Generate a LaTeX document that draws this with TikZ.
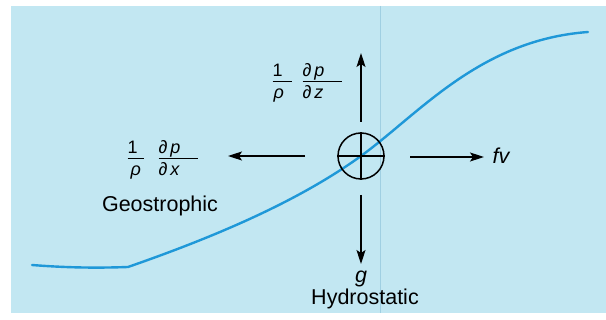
\documentclass[tikz,border=0pt]{standalone}
\usepackage{fontspec}
\setmainfont{Liberation Sans}
\usetikzlibrary{arrows.meta}
\definecolor{panel}{HTML}{C2E7F2}
\definecolor{curve}{HTML}{1F98D8}
\definecolor{vline}{HTML}{9FCFE2}
\setlength{\arrayrulewidth}{0.9pt}
\newcommand{\myfrac}[3]{\begin{tabular}{@{}l@{}}\makebox[#1][l]{#2}\\[-1.5pt]\hline\rule{0pt}{16pt}#3\end{tabular}}
\tikzset{
  force/.style={line width=1.3pt,-{Stealth[length=14pt,width=9pt,inset=3pt]}},
  lbl/.style={inner sep=0pt,font=\fontsize{21.5}{24}\selectfont},
  frac/.style={inner sep=0pt,font=\fontsize{18}{21.6}\selectfont},
}
\begin{document}
\begin{tikzpicture}[x=1pt,y=-1pt]
\useasboundingbox (0,0) rectangle (606,320);
\fill[white] (0,0) rectangle (606,320);
\fill[panel] (11,6) rectangle (606,313);
\draw[vline,line width=0.8pt] (380,6) -- (380,313);
% curve
\draw[curve,line width=2.4pt,line cap=round] (32,265) .. controls (70,268) and (100,268) .. (128,267)
  .. controls (220,235) and (300,200) .. (361,156)
  .. controls (420,113) and (480,40) .. (588,32);
% centre symbol
\node[circle,draw,line width=1.5pt,minimum size=46pt,inner sep=0pt] (c) at (361,156) {};
\draw[line width=1.3pt] (c.west) -- (c.east);
\draw[line width=1.3pt] (c.north) -- (c.south);
% arrow anchors
\coordinate (us) at (361,122);
\coordinate (ut) at (361,53);
\coordinate (ls) at (305,156);
\coordinate (lt) at (228,156);
\coordinate (rs) at (410,157);
\coordinate (rt) at (484,157);
\coordinate (ds) at (361,195);
\coordinate (dt) at (361,264);
\draw[force] (us) -- (ut);
\draw[force] (ls) -- (lt);
\draw[force] (rs) -- (rt);
\draw[force] (ds) -- (dt);
% labels
\node[lbl] (fv) at (501,156) {\itshape fv};
\node[lbl] (g) at (361,279) {\itshape g};
\node[lbl] (hyd) at (365,299) {Hydrostatic};
\node[lbl] (geo) at (160,206) {Geostrophic};
\node[frac] (xa) at (136,160) {\myfrac{17pt}{1}{\hspace{3pt}\itshape ρ}};
\node[frac] (xb) at (178,160) {\myfrac{39pt}{∂\,\itshape p}{∂\,\itshape x}};
\node[frac] (za) at (282,83) {\myfrac{19pt}{1}{\hspace{1pt}\itshape ρ}};
\node[frac] (zb) at (322,83) {\myfrac{39pt}{∂\,\itshape p}{∂\,\itshape z}};
\end{tikzpicture}
\end{document}
